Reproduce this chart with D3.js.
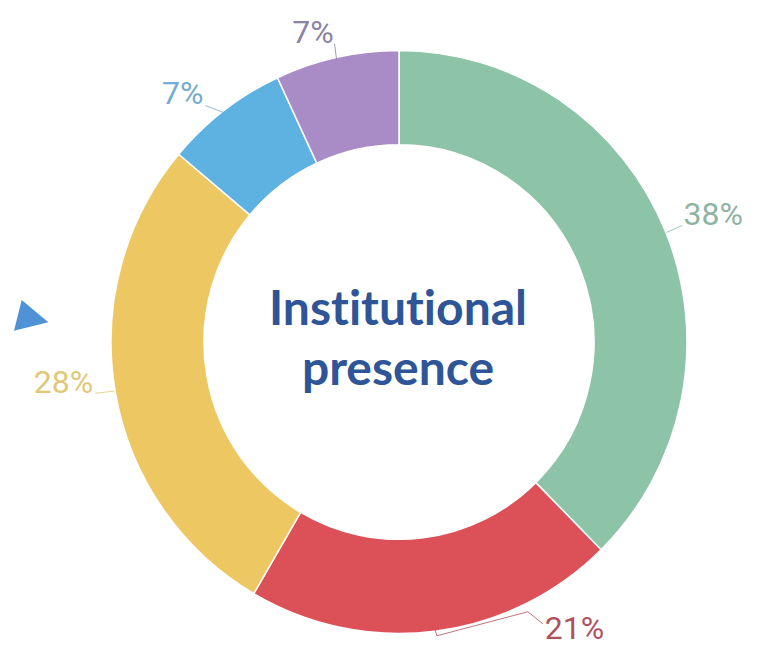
<!DOCTYPE html>
<html>
<head>
<meta charset="utf-8">
<script src="https://cdn.jsdelivr.net/npm/d3@7"></script>
<style>
  html, body { margin: 0; padding: 0; background: #fff; }
  svg { display: block; }
</style>
</head>
<body>
<svg id="chart" width="769" height="649"></svg>
<script>
// chart data
var categories = ["A", "B", "C", "D", "E"];
var values = [38, 21, 28, 7, 7];
var labels = ["38%", "21%", "28%", "7%", "7%"];
var colors = ["#8dc4a7", "#dc5157", "#edc761", "#5db2e2", "#a98bc6"];
var labelColors = ["#8fb3a1", "#b0525d", "#dfc878", "#74abd0", "#8b82a6"];
var centerTitle = ["Institutional", "presence"];

// leader line elbows relative to the anchor on the ring, and text side
var leaderOffsets = [
    {pts: [[16, -7]], dx: 17, dy: -7, anchor: "start"},
    {pts: [[2, 7], [93, -17], [108, -5]], dx: 110, dy: 10, anchor: "start"},
    {pts: [[-19, 2]], dx: -21, dy: 2, anchor: "end"},
    {pts: [[-18, -7]], dx: -20, dy: -9, anchor: "end"},
    {pts: [[-2, -16]], dx: -3, dy: -17, anchor: "end"}
];

var svg = d3.select("#chart"),
    cx = 399, cy = 342,
    outerR = 288, innerR = 195;

var pie = d3.pie().sort(null).value(function(d) { return d; });
var arcs = pie(values);

var arc = d3.arc().innerRadius(innerR).outerRadius(outerR);
var edgeArc = d3.arc().innerRadius(outerR + 1).outerRadius(outerR + 1);

var g = svg.append("g")
    .attr("transform", "translate(" + cx + "," + cy + ") scale(1,1.012)");

g.selectAll("path.slice")
    .data(arcs)
    .enter().append("path")
    .attr("class", "slice")
    .attr("d", arc)
    .attr("fill", function(d, i) { return colors[i]; })
    .attr("stroke", "#fff")
    .attr("stroke-width", 1.5);

// leader lines + labels
var lab = svg.append("g")
    .attr("transform", "translate(" + cx + "," + cy + ")");

arcs.forEach(function(d, i) {
    var a = edgeArc.centroid(d);
    var o = leaderOffsets[i];
    var pts = [a].concat(o.pts.map(function(p) { return [a[0] + p[0], a[1] + p[1]]; }));
    lab.append("path")
        .attr("d", d3.line()(pts))
        .attr("fill", "none")
        .attr("stroke", labelColors[i])
        .attr("stroke-width", 1)
        .attr("opacity", 0.8);
    lab.append("text")
        .attr("x", a[0] + o.dx)
        .attr("y", a[1] + o.dy)
        .attr("text-anchor", o.anchor)
        .attr("fill", labelColors[i])
        .style("font-family", "Roboto, 'DejaVu Sans', sans-serif")
        .style("font-size", "32px")
        .text(labels[i]);
});

// centre title
svg.append("g")
    .selectAll("text")
    .data(centerTitle)
    .enter().append("text")
    .attr("x", 398)
    .attr("y", function(d, i) { return 325 + i * 60; })
    .attr("text-anchor", "middle")
    .attr("fill", "#2e5597")
    .style("font-family", "Lato, 'Open Sans', sans-serif")
    .style("font-weight", 700)
    .style("font-size", "48px")
    .style("font-variant-ligatures", "none")
    .text(function(d) { return d; });

// small pointer triangle on the left
svg.append("path")
    .attr("d", "M21.7,300 L48.3,322.3 L14,330.7 Z")
    .attr("fill", "#4f92d6");
</script>
</body>
</html>
